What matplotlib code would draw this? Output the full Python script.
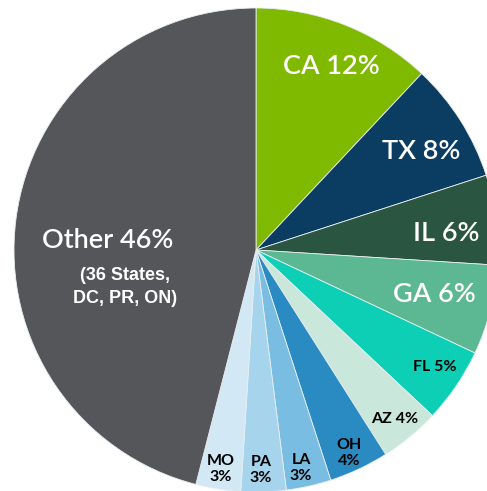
import matplotlib.pyplot as plt

# share of total by state, clockwise from 12 o'clock
states = ['CA', 'TX', 'IL', 'GA', 'FL', 'AZ', 'OH', 'LA', 'PA', 'MO', 'Other']
shares = [12, 8, 6, 6, 5, 4, 4, 3, 3, 3, 46]
colors = ['#7fba00', '#0b3d63', '#2a5540', '#5cb892', '#0dcfb6', '#c9e7da',
          '#2a8bc2', '#7abde3', '#a6d4ec', '#d2e8f5', '#55565a']

W, H = 487, 491
fig = plt.figure(figsize=(W / 100, H / 100), dpi=100)
ax = fig.add_axes([0, 0, 1, 1])

cx, cy, r = 256, H - 250, 242
ax.pie(shares, colors=colors, startangle=90, counterclock=False,
       center=(cx, cy), radius=r, frame=True,
       wedgeprops={'linewidth': 0.6, 'edgecolor': '#e8eef0'})
ax.set_xlim(0, W)
ax.set_ylim(0, H)
ax.axis('off')

big = dict(family=['Lato', 'DejaVu Sans'], weight='semibold', fontsize=19.5,
           color='white', ha='center', va='center')
small = dict(family=['Lato', 'DejaVu Sans'], weight='bold', fontsize=11.5,
             color='black', ha='center', va='center')


def put(x, y, s, **kw):
    ax.text(x, H - y, s, **kw)


put(331, 66, f'{states[0]} {shares[0]}%', **big)
put(421, 151, f'{states[1]} {shares[1]}%', **big)
put(446, 233, f'{states[2]} {shares[2]}%', **big)
put(434, 295, f'{states[3]} {shares[3]}%', **big)
put(435, 367, f'{states[4]} {shares[4]}%', **small)
put(395, 419, f'{states[5]} {shares[5]}%', **small)
put(349, 453, f'{states[6]}\n{shares[6]}%', linespacing=1.2, **small)
put(301, 468, f'{states[7]}\n{shares[7]}%', linespacing=1.2, **small)
put(261, 470, f'{states[8]}\n{shares[8]}%', linespacing=1.2, **small)
put(221, 469, f'{states[9]}\n{shares[9]}%', linespacing=1.2, **small)
put(108, 240, f'{states[10]} {shares[10]}%', **big)
put(125, 287, '(36 States,\nDC, PR, ON)', family=['Liberation Sans Narrow', 'Liberation Sans'],
    weight='bold', fontsize=13, color='white', ha='center', va='center',
    linespacing=1.45)

fig.savefig('out.png', dpi=100)
